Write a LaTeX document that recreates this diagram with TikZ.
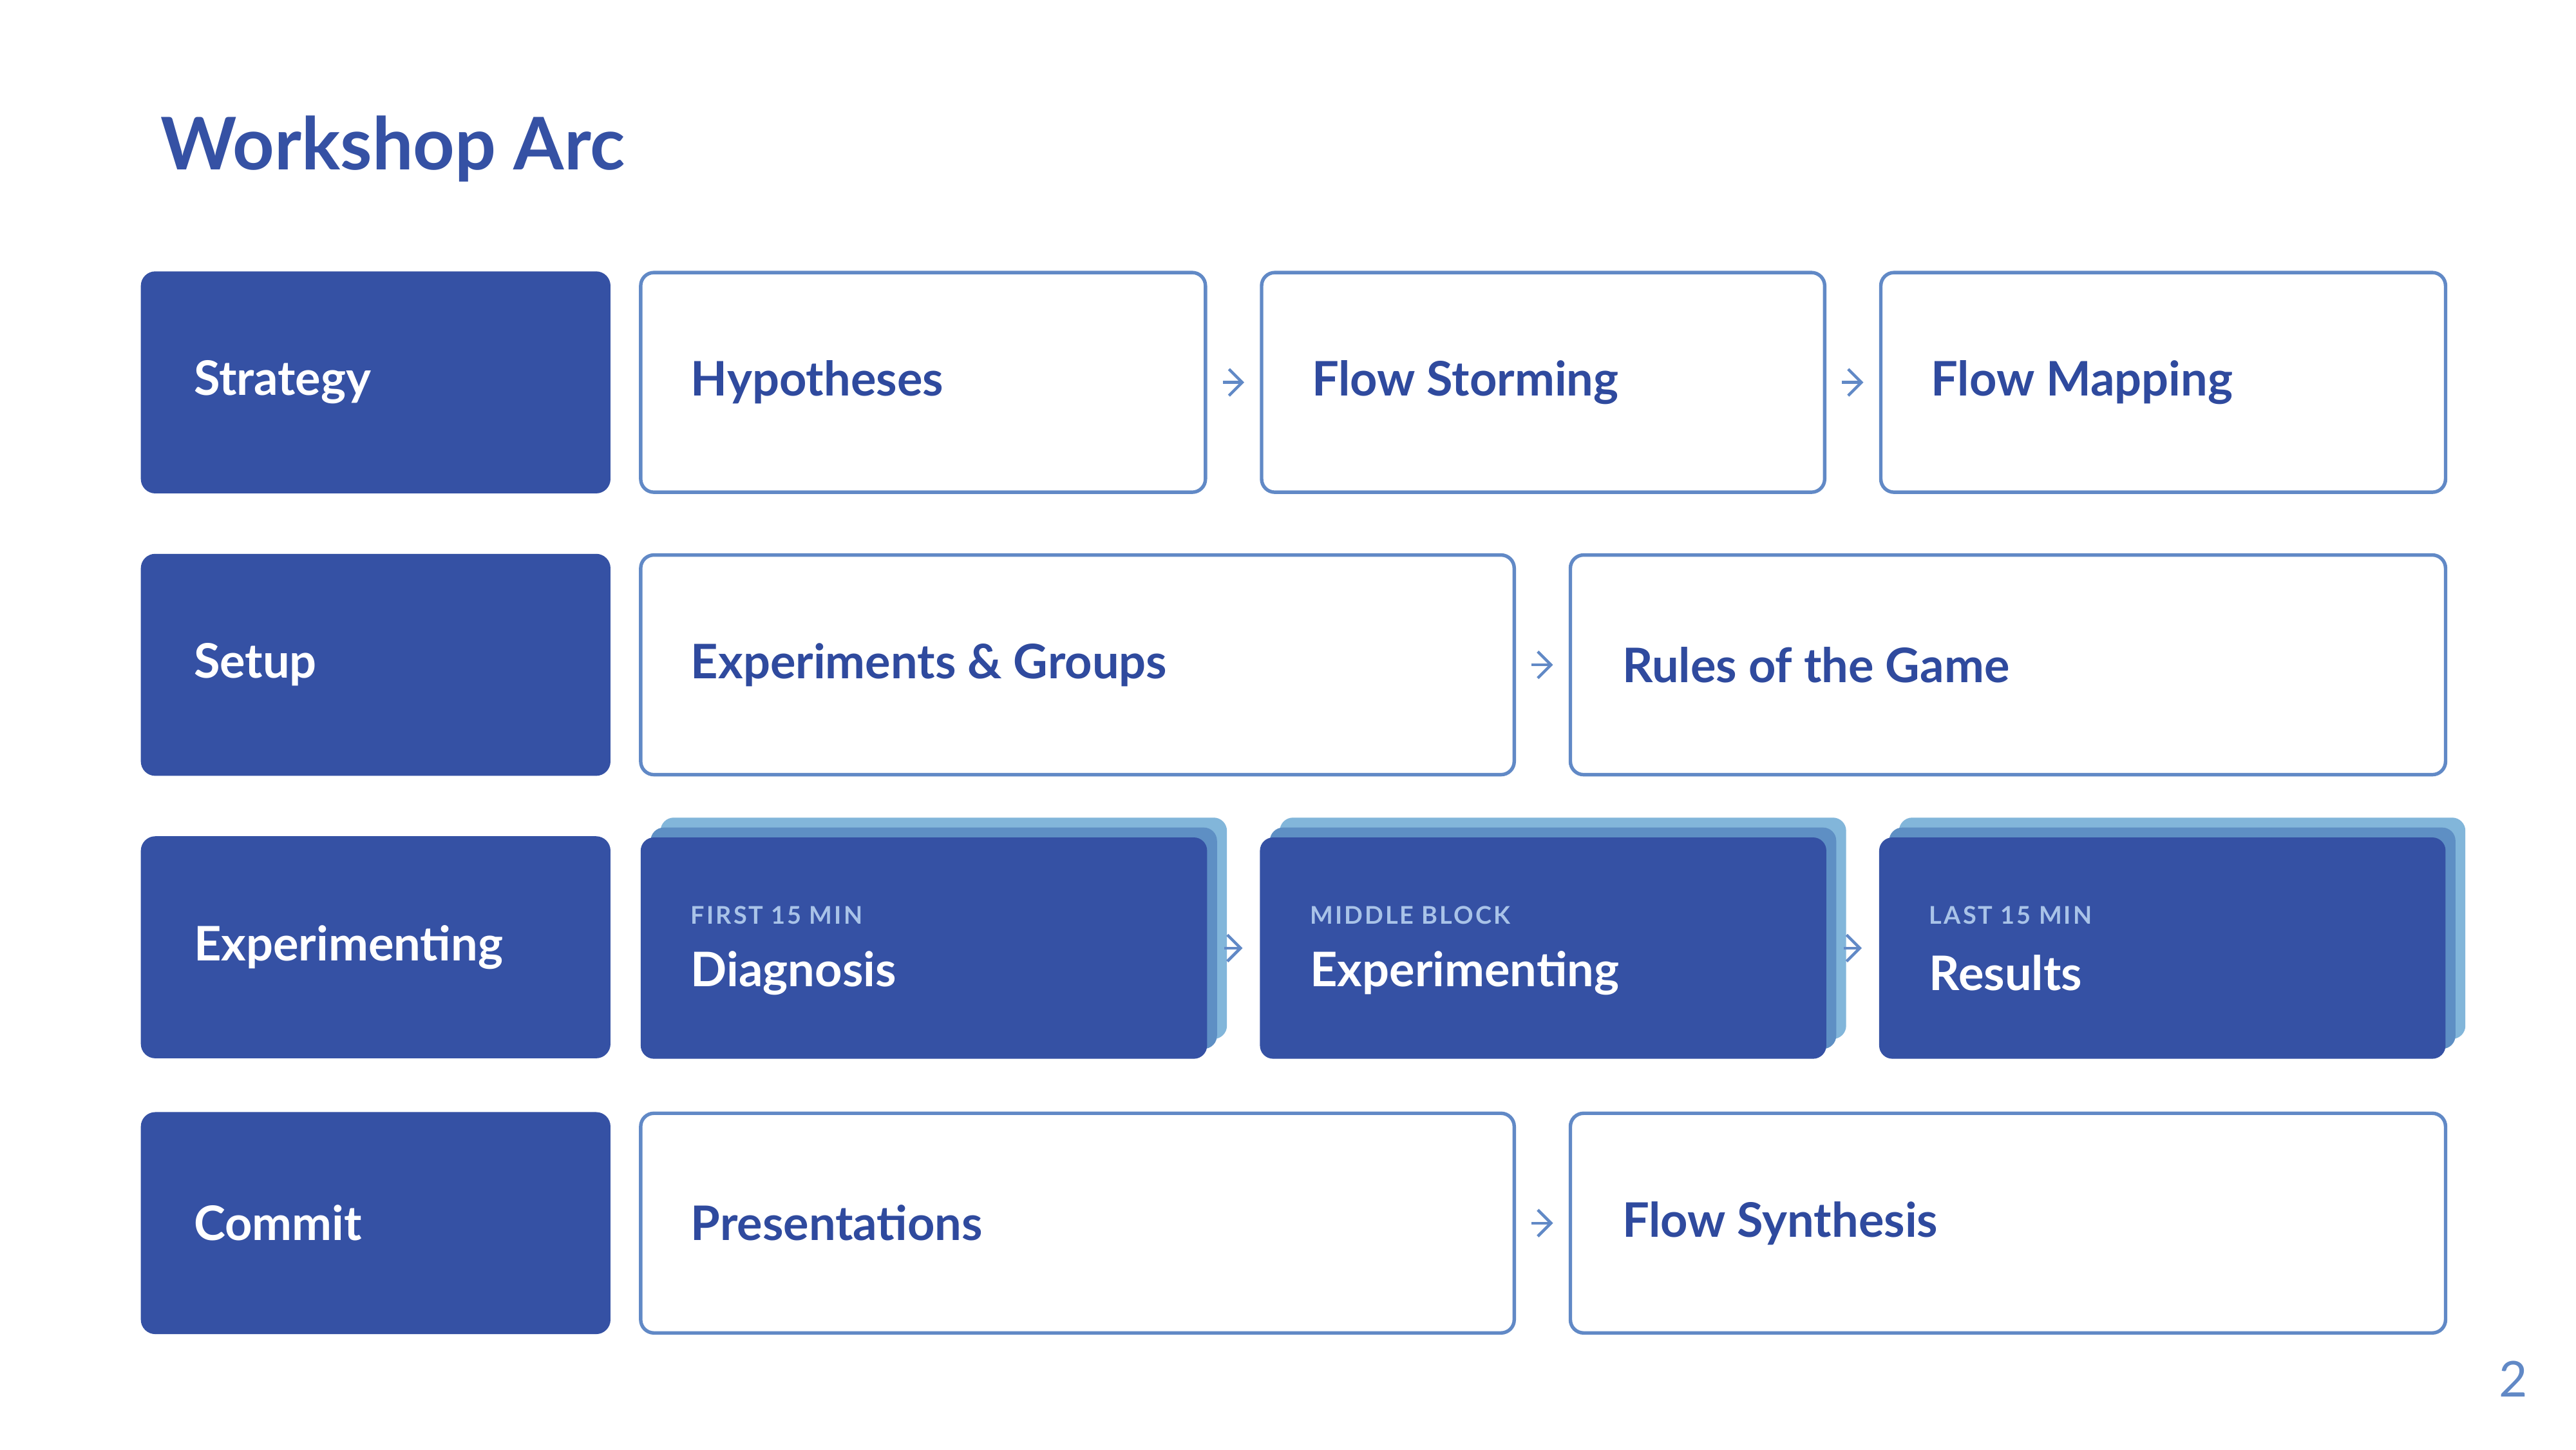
\documentclass[tikz,border=0pt]{standalone}
\usepackage{fontspec}
\setmainfont{Lato}
\usetikzlibrary{arrows.meta}
\definecolor{dblue}{HTML}{3551A4}
\definecolor{tblue}{HTML}{2F4A9E}
\definecolor{bord}{HTML}{6189C6}
\definecolor{midb}{HTML}{5E8FC4}
\definecolor{ltb}{HTML}{82B6DA}
\definecolor{cap}{HTML}{A9C3E8}
\begin{document}
\begin{tikzpicture}[x=0.01cm,y=-0.01cm,
  lab/.style={dblue,fill=dblue,rounded corners=0.08cm,draw},
  wbox/.style={draw=bord,line width=0.6pt,fill=white,rounded corners=0.08cm},
  ltxt/.style={anchor=west,text=white,font=\bfseries\fontsize{8.2}{10}\selectfont},
  btxt/.style={anchor=west,text=tblue,font=\bfseries\fontsize{8.2}{10}\selectfont},
  ctxt/.style={anchor=west,text=cap,font=\bfseries\fontsize{4.2}{5}\selectfont},
  arr/.style={draw=bord,line width=0.5pt,-{Straight Barb[length=0.8mm,width=1.6mm]},shorten <=1.05mm,shorten >=1.05mm}]
\fill[white] (0,0) rectangle (1560,877.5);
\useasboundingbox (0,0) rectangle (1560,877.5);
\node[anchor=west,text=dblue,font=\bfseries\fontsize{12.5}{14}\selectfont] (title) at (85,90) {Workshop Arc};
% left labels
\foreach \n/\t/\y in {s/Strategy/165,u/Setup/336,e/Experimenting/507,c/Commit/674}{
  \path[lab] (86,\y) rectangle (369,\y+133);
  \node[ltxt] (\n) at (105,\y+66.5) {\t};
}
% row 1
\path[wbox] (388,165) rectangle (730,298); \node[btxt] (h) at (406,231.5) {Hypotheses};
\coordinate (h1) at (730,231.5);
\path[wbox] (764,165) rectangle (1105,298); \node[btxt] (fs) at (782,231.5) {Flow Storming};
\coordinate (fs0) at (764,231.5); \coordinate (fs1) at (1105,231.5);
\path[wbox] (1139,165) rectangle (1481,298); \node[btxt] (fm) at (1157,231.5) {Flow Mapping};
\coordinate (fm0) at (1139,231.5);
\draw[arr] (h1) -- (fs0); \draw[arr] (fs1) -- (fm0);
% row 2
\path[wbox] (388,336) rectangle (917,469); \node[btxt] (eg) at (406,402.5) {Experiments \& Groups};
\path[wbox] (951,336) rectangle (1481,469); \node[btxt] (rg) at (970,402.5) {Rules of the Game};
\coordinate (eg1) at (917,402.5); \coordinate (rg0) at (951,402.5);
\draw[arr] (eg1) -- (rg0);
% row 4
\path[wbox] (388,674) rectangle (917,807); \node[btxt] (pr) at (406,740.5) {Presentations};
\path[wbox] (951,674) rectangle (1481,807); \node[btxt] (sy) at (970,740.5) {Flow Synthesis};
\coordinate (pr1) at (917,740.5); \coordinate (sy0) at (951,740.5);
\draw[arr] (pr1) -- (sy0);
% row 3 cards
\foreach \n/\x/\c/\t in {d/388/FIRST 15 MIN/Diagnosis,m/763/MIDDLE BLOCK/Experimenting,r/1138/LAST 15 MIN/Results}{
  \fill[ltb,rounded corners=0.08cm] (\x+12,495) rectangle (\x+355,629);
  \fill[midb,rounded corners=0.08cm] (\x+6,501) rectangle (\x+349,635);
  \fill[dblue,rounded corners=0.08cm] (\x,507) rectangle (\x+343,641);
  \node[ctxt] (\n c) at (\x+18,554) {\addfontfeature{LetterSpace=8}\c};
  \node[btxt,text=white] (\n) at (\x+18,589) {\t};
  \coordinate (\n0) at (\x,574); \coordinate (\n1) at (\x+343,574);
}
\draw[arr] (d1) -- (m0); \draw[arr] (m1) -- (r0);
\node[text=bord,font=\fontsize{8.5}{10}\selectfont] (pg) at (1522,835) {2};
\end{tikzpicture}
\end{document}
